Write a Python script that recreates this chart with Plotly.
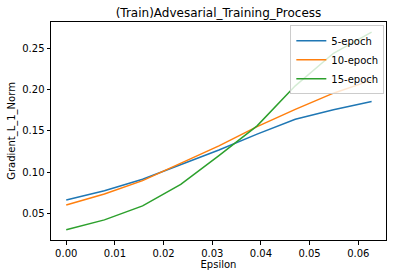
import plotly.graph_objects as go

epsilon = [0, 2/255, 4/255, 6/255, 8/255, 10/255, 12/255, 14/255, 16/255]
epoch5 = [0.066, 0.0774, 0.0913, 0.1086, 0.1268, 0.146, 0.164, 0.1754, 0.1855]
epoch10 = [0.060, 0.0734, 0.0896, 0.1107, 0.1317, 0.155, 0.176, 0.1956, 0.2114]
epoch15 = [0.030, 0.042, 0.059, 0.085, 0.120, 0.156, 0.2045, 0.244, 0.2697]
series_names = ["5-epoch", "10-epoch", "15-epoch"]
colors = ["#1f77b4", "#ff7f0e", "#2ca02c"]
x_ticks = [0.00, 0.01, 0.02, 0.03, 0.04, 0.05, 0.06]
y_ticks = [0.05, 0.10, 0.15, 0.20, 0.25]

fig = go.Figure()
for name, ys, c in zip(series_names, [epoch5, epoch10, epoch15], colors):
    fig.add_trace(go.Scatter(x=epsilon, y=ys, mode="lines", name=name,
                             line=dict(color=c, width=1.5)))

font = "DejaVu Sans"
axis_common = dict(showgrid=False, zeroline=False, showline=True, linecolor="black",
                   linewidth=1, mirror=True, ticks="outside", ticklen=3.5,
                   tickcolor="black", tickwidth=1, automargin=False,
                   tickfont=dict(family=font, size=10, color="black"))
fig.update_layout(
    width=393, height=278,
    margin=dict(l=51, r=7, t=22, b=38, autoexpand=False),
    paper_bgcolor="white", plot_bgcolor="white",
    title=dict(text="(Train)Advesarial_Training_Process", xref="paper", x=0.5, xanchor="center",
               y=0.955, yanchor="middle", font=dict(family=font, size=12, color="black")),
    xaxis=dict(range=[-0.00313, 0.0657], tickvals=x_ticks, tickformat=".2f",
               title=dict(text="Epsilon", font=dict(family=font, size=10, color="black"), standoff=2),
               **axis_common),
    yaxis=dict(range=[0.0176, 0.2819], tickvals=y_ticks, tickformat=".2f",
               title=dict(text="Gradient_L_1_Norm", font=dict(family=font, size=10, color="black"), standoff=4),
               **axis_common),
    legend=dict(x=0.995, y=0.985, xanchor="right", yanchor="top",
                bgcolor="rgba(255,255,255,0.8)", bordercolor="#cccccc", borderwidth=1,
                font=dict(family=font, size=10, color="black"),
                itemwidth=30, tracegroupgap=0),
    showlegend=True,
)
fig.write_html("out.html", config={"displayModeBar": False},
               post_script="document.body.style.margin='0';document.body.style.padding='0';")
